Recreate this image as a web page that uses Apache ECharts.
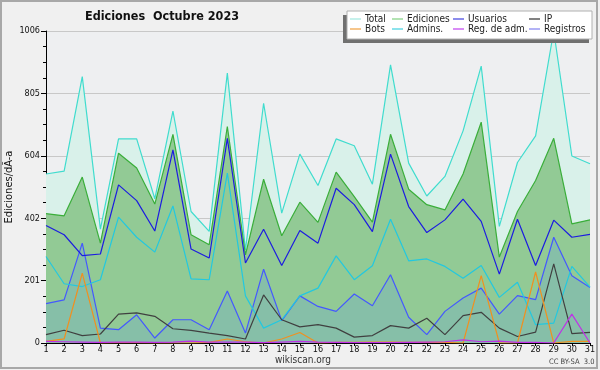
<!DOCTYPE html>
<html>
<head>
<meta charset="utf-8">
<script src="https://cdn.jsdelivr.net/npm/echarts@6/dist/echarts.min.js"></script>
<style>
html,body{margin:0;padding:0;background:#f0f0f0;}
#c{width:600px;height:370px;}
</style>
</head>
<body>
<div id="c"></div>
<script>
const days = ['1','2','3','4','5','6','7','8','9','10','11','12','13','14','15','16','17','18','19','20','21','22','23','24','25','26','27','28','29','30','31'];
const yTicks = [0, 201, 402, 604, 805, 1006];
const total     = [545,554,859,367,658,658,465,748,424,360,870,300,773,419,609,508,658,636,512,897,580,474,537,684,893,376,582,668,1006,603,578];
const ediciones = [417,410,535,322,612,564,448,673,349,317,698,284,528,346,454,389,551,472,390,673,496,446,429,545,712,277,424,524,660,384,397];
const usuarios  = [379,349,282,287,510,459,361,623,303,274,660,258,367,250,363,322,499,446,359,609,440,356,397,464,392,222,399,250,396,341,350];
const ip        = [27,41,24,29,93,97,86,46,41,32,24,13,155,75,52,59,48,19,24,56,48,80,27,88,99,48,21,35,255,30,34];
const bots      = [5,13,225,0,1,1,0,0,0,2,13,4,0,13,34,0,2,2,3,3,2,2,2,0,217,0,0,229,0,5,5];
const admins    = [279,191,182,204,406,341,293,442,207,204,548,152,48,75,152,177,281,204,249,399,265,271,247,209,250,147,196,59,64,247,180];
const regAdm    = [5,4,3,2,3,3,2,3,6,3,3,3,1,3,5,3,2,1,1,1,2,3,4,10,4,6,2,2,0,93,0];
const registros = [127,139,322,48,43,91,16,75,75,43,168,32,238,72,152,118,102,158,120,220,83,27,102,145,177,93,153,140,341,217,179];

const FONT = 'DejaVu Sans Condensed, DejaVu Sans, sans-serif';
const chart = echarts.init(document.getElementById('c'), null, {renderer:'canvas'});

function lineSeries(name, data, color, area, lw) {
  const s = {
    name: name, type: 'line', data: data, symbol: 'none', smooth: false,
    lineStyle: {color: color, width: lw || 1.2},
    itemStyle: {color: color},
    emphasis: {disabled: true}, silent: true
  };
  if (area) s.areaStyle = {color: area, opacity: 1, origin: 'start'};
  return s;
}

function legendCol(left, items) {
  return {
    left: left, top: 14, orient: 'vertical', itemGap: 0, itemWidth: 11, itemHeight: 1.2,
    icon: 'rect', selectedMode: false, padding: 0, z: 70,
    textStyle: {fontFamily: FONT, fontSize: 10, color: '#222', lineHeight: 10, padding: [0,0,0,-1]},
    data: items.map(it => ({name: it[0], itemStyle: {color: it[1]}}))
  };
}

chart.setOption({
  animation: false,
  backgroundColor: '#f0f0f0',
  title: {
    text: 'Ediciones  Octubre 2023', left: 85, top: 10, padding: 0,
    textStyle: {fontFamily: FONT, fontSize: 12.5, fontWeight: 'bold', color: '#111'}
  },
  graphic: [
    {type:'rect', z: -10, silent:true, shape:{x:1, y:1, width:596, height:367}, style:{fill:'#f0f0f0', stroke:'#a8a8a8', lineWidth:2}},
    {type:'rect', z: 0, silent:true, shape:{x:46, y:31, width:544, height:312}, style:{fill:'#eeeff1'}},
    {type:'rect', z: 50, silent:true, shape:{x:343, y:15, width:246, height:28}, style:{fill:'#707070'}},
    {type:'rect', z: 51, silent:true, shape:{x:347, y:11, width:245, height:28}, style:{fill:'#ffffff', stroke:'#b0b0b0', lineWidth:1}},
    {type:'text', z: 60, silent:true, left: 275, top: 355, style:{text:'wikiscan.org', fontFamily: FONT, fontSize: 10, fill:'#333'}},
    {type:'text', z: 60, silent:true, left: 549, top: 358, style:{text:'CC BY-SA  3.0', fontFamily: FONT, fontSize: 7.5, fill:'#444'}}
  ],
  legend: [
    legendCol(350, [['Total','#a0e8e0'],['Bots','#f0a040']]),
    legendCol(392, [['Ediciones','#80d080'],['Admins.','#40d0e0']]),
    legendCol(453, [['Usuarios','#4040e0'],['Reg. de adm.','#c040f0']]),
    legendCol(529, [['IP','#303030'],['Registros','#8080f0']])
  ],
  grid: {left: 46, right: 10, top: 31, bottom: 27, containLabel: false, outerBoundsMode: 'none'},
  xAxis: {
    type: 'category', data: days, boundaryGap: false,
    axisLine: {lineStyle: {color: '#000', width: 1}},
    axisTick: {show: true, length: 3, alignWithLabel: true, lineStyle: {color: '#000'}},
    axisLabel: {fontFamily: FONT, fontSize: 9, color: '#111', margin: 2, interval: 0},
    splitLine: {show: false}
  },
  yAxis: {
    type: 'value', min: 0, max: yTicks[yTicks.length-1], interval: yTicks[yTicks.length-1] / 5,
    name: 'Ediciones/dÃ-a', nameLocation: 'middle', nameGap: 31, nameRotate: 90, nameMoveOverlap: false,
    nameTextStyle: {fontFamily: FONT, fontSize: 11, color: '#111'},
    axisLine: {show: true, lineStyle: {color: '#000', width: 1}},
    axisTick: {show: true, length: 5, lineStyle: {color: '#000'}},
    minorTick: {show: true, splitNumber: 4, length: 3, lineStyle: {color: '#000'}},
    axisLabel: {fontFamily: FONT, fontSize: 9, color: '#111', margin: 6,
      formatter: v => String(yTicks.reduce((a,b)=>Math.abs(b-v)<Math.abs(a-v)?b:a))},
    splitLine: {show: true, lineStyle: {color: '#c8c8c8', width: 1}}
  },
  series: [
    lineSeries('Total', total, '#40dcce', '#d9f1ea'),
    lineSeries('Ediciones', ediciones, '#3aae3a', '#92ca95'),
    lineSeries('Registros', registros, '#4458ff', '#86bfa8'),
    lineSeries('Usuarios', usuarios, '#1c1ce0'),
    lineSeries('Admins.', admins, '#22c8e0'),
    lineSeries('IP', ip, '#404040'),
    lineSeries('Bots', bots, '#f09020'),
    lineSeries('Reg. de adm.', regAdm, '#c030e8')
  ]
});
</script>
</body>
</html>
